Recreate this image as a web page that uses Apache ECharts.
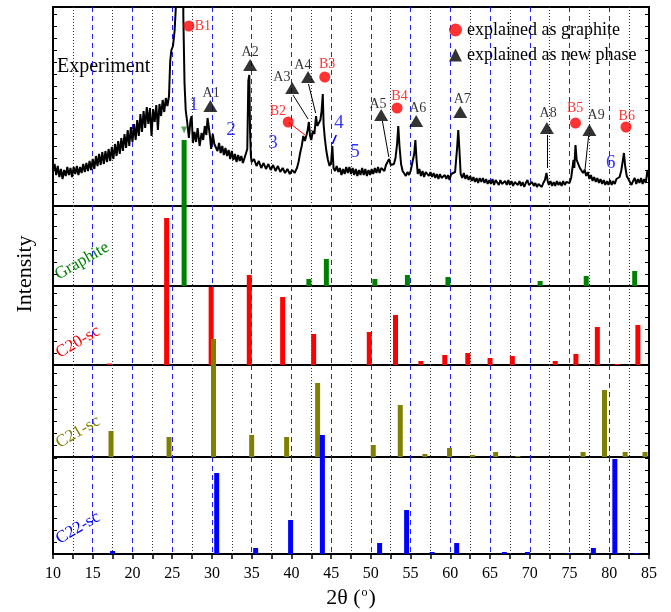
<!DOCTYPE html>
<html>
<head>
<meta charset="utf-8">
<title>XRD</title>
<script src="https://cdn.jsdelivr.net/npm/echarts/dist/echarts.min.js"></script>
<style>html,body{margin:0;padding:0;background:#fff}#main{width:671px;height:612px}</style>
</head>
<body>
<div id="main"></div>
<script>
// measured curve, [2theta, intensity]
var expCurve = [
[10.0,36],[10.2,42],[10.4,31],[10.6,40],[10.8,29],[11.0,37],[11.2,27],[11.4,36],[11.6,30],[11.8,39],
[12.0,31],[12.2,38],[12.4,29],[12.6,39],[12.8,32],[13.0,40],[13.2,31],[13.4,39],[13.6,33],[13.8,42],
[14.0,34],[14.2,43],[14.4,35],[14.6,45],[14.8,36],[15.0,47],[15.2,37],[15.4,50],[15.6,40],[15.8,52],
[16.0,41],[16.2,54],[16.4,42],[16.6,55],[16.8,44],[17.0,57],[17.2,45],[17.4,59],[17.6,47],[17.8,62],
[18.0,50],[18.2,65],[18.4,52],[18.6,68],[18.8,55],[19.0,72],[19.2,58],[19.4,76],[19.6,60],[19.8,79],
[20.0,64],[20.2,82],[20.4,66],[20.6,86],[20.8,70],[21.0,92],[21.2,74],[21.4,95],[21.6,78],[21.8,99],
[22.0,82],[22.2,98],[22.4,70],[22.6,97],[22.8,84],[23.0,101],[23.2,76],[23.4,102],[23.6,90],[23.8,106],
[24.0,94],[24.2,108],[24.4,100],[24.6,110],[24.75,145],[24.9,156],[25.1,160],[25.3,175],[25.5,205],
[25.7,260],[26.0,420],[26.3,420],[26.4,190],[26.55,123],[26.7,96],[26.9,83],[27.1,68],[27.3,86],[27.45,90],
[27.6,63],[27.8,74],[28.0,64],[28.2,78],[28.45,60],[28.7,73],[28.9,66],[29.1,80],[29.3,71],[29.45,88],
[29.6,86],[29.75,70],[29.9,57],[30.1,72],[30.3,62],[30.5,61],[30.7,55],[30.9,63],[31.1,53],[31.3,60],
[31.5,51],[31.7,58],[31.9,50],[32.1,56],[32.3,47],[32.5,55],[32.7,46],[32.9,52],[33.1,44],[33.3,51],
[33.5,45],[33.7,50],[33.9,43],[34.1,48],[34.3,50],[34.45,57],[34.58,125],[34.7,131],[34.8,74],[34.9,50],
[35.0,44],[35.3,47],[35.6,40],[35.9,45],[36.2,38],[36.5,43],[36.8,37],[37.1,42],[37.4,36],[37.7,41],
[38.0,35],[38.3,40],[38.6,34],[38.9,38],[39.2,33],[39.5,37],[39.8,32],[40.1,36],[40.4,33],[40.7,38],
[40.9,44],[41.1,53],[41.3,60],[41.5,70],[41.7,65],[41.9,71],[42.05,76],[42.2,84],[42.35,70],[42.5,66],
[42.7,75],[42.9,72],[43.1,90],[43.25,80],[43.45,78],[43.65,86],[43.8,95],[43.95,112],[44.05,82],[44.2,68],
[44.4,55],[44.6,46],[44.8,40],[45.0,44],[45.15,60],[45.3,38],[45.5,35],[45.7,40],[45.9,34],[46.1,38],
[46.3,31],[46.5,37],[46.7,32],[46.9,39],[47.1,33],[47.3,39],[47.5,32],[47.7,38],[47.9,31],[48.1,37],
[48.3,30],[48.5,36],[48.7,31],[48.9,38],[49.1,31],[49.3,37],[49.5,30],[49.7,36],[49.9,31],[50.1,37],
[50.3,32],[50.5,38],[50.7,33],[50.9,39],[51.1,33],[51.3,38],[51.5,36],[51.7,35],[51.9,41],[52.1,42],
[52.3,47],[52.5,41],[52.7,40],[52.9,42],[53.1,48],[53.3,62],[53.45,80],[53.6,60],[53.8,42],[54.0,35],
[54.2,34],[54.4,30],[54.6,34],[54.8,31],[55.0,35],[55.2,36],[55.45,52],[55.6,66],[55.75,46],[55.9,32],
[56.1,37],[56.3,30],[56.5,35],[56.7,29],[56.9,34],[57.1,35],[57.3,30],[57.5,34],[57.7,29],[57.9,33],
[58.1,28],[58.3,32],[58.5,27],[58.7,32],[58.9,28],[59.1,26],[59.3,31],[59.5,27],[59.7,31],[59.9,26],
[60.1,32],[60.3,30],[60.6,34],[60.85,58],[61.0,76],[61.15,55],[61.3,32],[61.5,28],[61.7,33],[61.9,27],
[62.1,31],[62.3,26],[62.5,30],[62.7,25],[62.9,29],[63.1,24],[63.3,28],[63.5,23],[63.7,28],[63.9,24],
[64.1,28],[64.3,23],[64.5,27],[64.7,22],[64.9,26],[65.1,22],[65.3,27],[65.5,21],[65.7,26],[65.9,24],
[66.1,21],[66.3,26],[66.5,22],[66.7,20],[66.9,25],[67.1,21],[67.3,26],[67.5,21],[67.7,25],[67.9,20],
[68.1,24],[68.3,26],[68.5,21],[68.7,25],[68.9,20],[69.1,24],[69.3,19],[69.5,23],[69.7,26],[69.9,21],
[70.1,19],[70.3,24],[70.5,20],[70.7,23],[70.9,19],[71.1,22],[71.3,24],[71.5,19],[71.7,23],[71.9,26],
[72.1,33],[72.25,25],[72.4,21],[72.6,25],[72.8,20],[73.0,24],[73.2,20],[73.4,25],[73.6,21],[73.8,24],
[74.0,20],[74.2,25],[74.4,21],[74.6,24],[74.8,25],[75.0,23],[75.2,28],[75.4,40],[75.5,46],[75.6,38],
[75.75,61],[75.9,46],[76.1,42],[76.3,38],[76.5,36],[76.7,33],[76.9,36],[77.1,30],[77.3,34],[77.5,27],
[77.7,31],[77.9,25],[78.1,29],[78.3,24],[78.5,28],[78.7,23],[78.9,27],[79.1,22],[79.3,26],[79.5,21],
[79.7,25],[79.9,21],[80.1,26],[80.3,21],[80.5,25],[80.7,22],[80.9,27],[81.1,25],[81.3,29],[81.5,35],
[81.7,45],[81.85,53],[82.0,40],[82.2,30],[82.4,27],[82.6,24],[82.8,21],[83.0,25],[83.2,28],[83.4,22],
[83.6,27],[83.8,23],[84.0,28],[84.2,22],[84.4,27],[84.6,23],[84.8,36],[85.0,28]
];

// reference patterns (peak position, intensity)
var graphitePos = [26.5, 42.2, 44.4, 50.5, 54.6, 59.7, 71.3, 77.1, 83.2];
var graphiteInt = [146, 7, 27, 7, 11, 9, 5, 10, 15];
var c20Pos = [17.1, 24.3, 29.9, 34.7, 38.9, 42.8, 49.8, 53.1, 56.3, 59.3, 62.2, 65.0, 67.8, 73.2, 75.8, 78.5, 81.0, 83.6];
var c20Int = [1.5, 147, 78, 90, 68, 31, 33, 50, 4, 10, 12, 7, 9, 4, 11, 38, 1, 40];
var c21Pos = [17.3, 24.6, 30.2, 35.0, 39.4, 43.3, 50.3, 53.7, 56.8, 59.9, 62.8, 65.7, 68.5, 76.7, 79.4, 82.0, 84.5];
var c21Int = [26, 20, 118, 22, 20, 74, 12, 52, 3, 9, 2, 5, 1, 5, 67, 5, 5];
var c22Pos = [17.5, 30.6, 35.5, 39.9, 43.9, 51.1, 54.5, 57.7, 60.8, 66.8, 69.7, 74.9, 78.0, 80.7, 83.4];
var c22Int = [3, 81, 6, 34, 119, 11, 44, 2, 11, 2, 2, 0.6, 6, 95, 1];

// annotations on the experiment curve
var newPhaseNames = ['A1', 'A2', 'A3', 'A4', 'A5', 'A6', 'A7', 'A8', 'A9'];
var newPhaseMarks = [[29.8,100],[34.8,141],[40.1,118],[42.1,129],[51.3,91],[55.7,85],[61.25,94],[72.15,78],[77.5,76]];
var newPhaseText = [[29.9,113],[34.8,154],[38.8,129],[41.45,141],[50.9,102],[55.9,98],[61.5,107],[72.3,93],[78.35,91]];
var graphiteNames = ['B1', 'B2', 'B3', 'B4', 'B5', 'B6'];
var graphiteMarks = [[27.1,180],[39.6,84],[44.2,129],[53.3,98],[75.75,83],[82.1,79]];
var graphiteText = [[28.85,180],[38.3,95],[44.5,142],[53.6,110],[75.7,98],[82.2,90]];
var regionNames = ['1', '2', '3', '4', '5', '6'];
var regionText = [[27.7,101],[32.4,76],[37.7,63],[46.0,83],[48.0,54],[80.2,43]];
var blackLeaders = [[[40.2,111],[42.1,87]], [[42.15,122],[43.05,93]], [[51.45,85],[52.26,49]], [[72.15,71],[72.15,38]], [[77.4,70],[76.9,33]]];
var redLeaders = [[[39.6,84],[41.7,71]]];
var blueLeaders = [[[45.65,71],[45.15,62]]];
var arrowMark = [[26.5,76]];

var xTicks = [10, 15, 20, 25, 30, 35, 40, 45, 50, 55, 60, 65, 70, 75, 80, 85];

var SERIF = '"Liberation Serif", "DejaVu Serif", serif';
var panelTop = [7, 206, 286, 365, 457];
var panelH = [199, 80, 79, 92, 97];

function zip(a, b) {
    return a.map(function (v, i) { return [v, b[i]]; });
}

var grids = [], xAxes = [], yAxes = [];
for (var i = 0; i < 5; i++) {
    var last = i === 4;
    grids.push({ left: 53, right: 22, top: panelTop[i], height: panelH[i], show: true, borderColor: '#000', borderWidth: 2, backgroundColor: 'transparent' });
    xAxes.push({
        type: 'value', gridIndex: i, min: xTicks[0], max: xTicks[xTicks.length - 1], interval: 5,
        axisLine: { show: false },
        axisTick: { show: last, inside: false, length: 5, lineStyle: { color: '#000', width: 1.5 } },
        minorTick: { show: last, splitNumber: 2, length: 5, lineStyle: { color: '#000', width: 1.5 } },
        axisLabel: { show: last, color: '#000', fontFamily: SERIF, fontSize: 16, margin: 12 },
        splitLine: { show: true, showMinLine: false, showMaxLine: false, lineStyle: { color: '#1f1fff', type: [5, 4], width: 1 } },
        minorSplitLine: { show: true, lineStyle: { color: '#333', type: [1, 2], width: 1 } },
        name: last ? '2θ ({s|o})' : '',
        nameLocation: 'middle', nameGap: 33,
        nameTextStyle: { color: '#000', fontFamily: SERIF, fontSize: 22, rich: { s: { fontFamily: SERIF, fontSize: 12, padding: [0, 1, 10, 1] } } }
    });
}
['left', 'right'].forEach(function (side) {
    for (var i = 0; i < 5; i++) {
        yAxes.push({
            type: 'value', gridIndex: i, position: side, min: 0, max: panelH[i], interval: 12,
            axisLine: { show: false },
            axisTick: { show: true, inside: true, length: 4, lineStyle: { color: '#000' } },
            axisLabel: { show: false }, splitLine: { show: false }
        });
    }
});

function barSeries(idx, pos, val, color) {
    return { type: 'bar', xAxisIndex: idx, yAxisIndex: idx, data: zip(pos, val), barWidth: 5, clip: false, z: 3, itemStyle: { color: color } };
}
function textSeries(names, pts, color, size) {
    return {
        type: 'scatter', xAxisIndex: 0, yAxisIndex: 0, symbolSize: 1, silent: true, z: 6,
        itemStyle: { color: 'transparent' },
        data: pts.map(function (p, i) { return { name: names[i], value: p }; }),
        label: { show: true, position: 'inside', formatter: '{b}', color: color, fontFamily: SERIF, fontSize: size }
    };
}
function leaderSeries(segs, color, w) {
    return { type: 'lines', coordinateSystem: 'cartesian2d', xAxisIndex: 0, yAxisIndex: 0, silent: true, z: 5,
        data: segs.map(function (s) { return { coords: s }; }),
        lineStyle: { color: color, width: w, opacity: 1 } };
}

var option = {
    animation: false,
    backgroundColor: '#fff',
    grid: grids, xAxis: xAxes, yAxis: yAxes,
    legend: {
        orient: 'vertical', left: 444, top: 16, itemWidth: 13, itemHeight: 13, itemGap: 7,
        data: ['explained as graphite', 'explained as new phase'],
        textStyle: { color: '#000', fontFamily: SERIF, fontSize: 18 }
    },
    graphic: [
        { type: 'text', x: 57, y: 67, style: { text: 'Experiment', font: '20px ' + SERIF, fill: '#000', verticalAlign: 'middle' } },
        { type: 'text', x: 25, y: 274, rotation: Math.PI / 2, style: { text: 'Intensity', font: '22px ' + SERIF, fill: '#000', align: 'center', verticalAlign: 'middle' } },
        { type: 'text', x: 82, y: 261, rotation: Math.PI / 6, style: { text: 'Graphite', font: '17px ' + SERIF, fill: '#008000', align: 'center', verticalAlign: 'middle' } },
        { type: 'text', x: 78, y: 342, rotation: Math.PI / 6, style: { text: 'C20-sc', font: '17px ' + SERIF, fill: '#ff0000', align: 'center', verticalAlign: 'middle' } },
        { type: 'text', x: 78, y: 432, rotation: Math.PI / 6, style: { text: 'C21-sc', font: '17px ' + SERIF, fill: '#808000', align: 'center', verticalAlign: 'middle' } },
        { type: 'text', x: 78, y: 528, rotation: Math.PI / 6, style: { text: 'C22-sc', font: '17px ' + SERIF, fill: '#0000ff', align: 'center', verticalAlign: 'middle' } }
    ],
    series: [
        { type: 'line', name: 'Experiment', xAxisIndex: 0, yAxisIndex: 0, data: expCurve, showSymbol: false, symbol: 'none', z: 4,
          lineStyle: { color: '#000', width: 2 } },
        barSeries(1, graphitePos, graphiteInt, '#008000'),
        barSeries(2, c20Pos, c20Int, '#ff0000'),
        barSeries(3, c21Pos, c21Int, '#808000'),
        barSeries(4, c22Pos, c22Int, '#0000ff'),
        { type: 'scatter', name: 'explained as graphite', xAxisIndex: 0, yAxisIndex: 0, data: graphiteMarks, symbol: 'circle', symbolSize: 11, z: 6,
          itemStyle: { color: '#ff0000' } },
        { type: 'scatter', name: 'explained as new phase', xAxisIndex: 0, yAxisIndex: 0, data: newPhaseMarks, symbol: 'triangle', symbolSize: [14, 12], z: 6,
          itemStyle: { color: '#000' } },
        { type: 'scatter', xAxisIndex: 0, yAxisIndex: 0, data: arrowMark, symbol: 'triangle', symbolRotate: 180, symbolSize: [6, 7], z: 6,
          itemStyle: { color: '#2e8b2e' } },
        leaderSeries(blackLeaders, '#000', 1),
        leaderSeries(redLeaders, '#ff0000', 1),
        leaderSeries(blueLeaders, '#0000ff', 1.6),
        textSeries(newPhaseNames, newPhaseText, '#000', 14),
        textSeries(graphiteNames, graphiteText, '#ff0000', 14),
        textSeries(regionNames, regionText, '#0000ff', 19)
    ]
};

var myChart = echarts.init(document.getElementById('main'));
myChart.setOption(option);
</script>
</body>
</html>
